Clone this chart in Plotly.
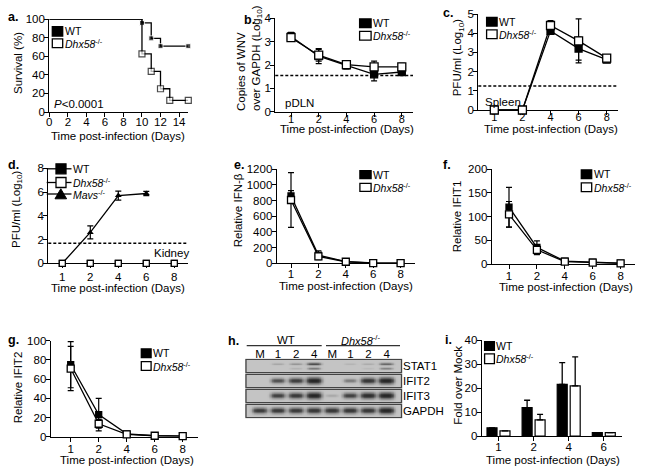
import numpy as np
import plotly.graph_objects as go

W, H = 645, 472
FONT = "Liberation Sans, Arial, sans-serif"
FS = 11.5
LFS = 10.5

# ---------------- data ----------------
# a. survival
surv_wt_days = [0, 10, 11, 12, 15]
surv_wt = [100, 95.8, 79.2, 70.8, 70.8]
surv_ko_days = [0, 10, 11, 12, 13, 15]
surv_ko = [100, 62.5, 43.75, 25, 12.5, 12.5]

days = ["1", "2", "4", "6", "8"]

# b. pDLN
b_wt = [3.22, 2.38, 1.98, 1.60, 1.70]
b_wt_err = [0.18, 0.32, 0.15, 0.28, 0.10]
b_ko = [3.17, 2.42, 2.02, 1.92, 1.92]
b_ko_err = [0.15, 0.25, 0.12, 0.25, 0.15]
b_lod = 1.55

# c. spleen
c_wt = [0, 0, 4.12, 3.2, 2.62]
c_wt_err = [0, 0, 0.1, 0.6, 0.1]
c_ko = [0, 0, 4.4, 3.6, 2.7]
c_ko_err = [0, 0, 0.25, 1.15, 0.15]
c_lod = 1.25

# d. kidney
d_wt = [0, 0, 0, 0, 0]
d_ko = [0, 0, 0, 0, 0]
d_mavs = [0, 2.6, 5.7, 5.88]
d_mavs_err = [0, 0.55, 0.38, 0.18]
d_lod = 1.68

# e. IFN-beta
e_wt = [860, 105, 22, 4, 2]
e_wt_err = [67, 55, 8, 2, 1]
e_ko = [808, 88, 20, 3, 2]
e_ko_err = [350, 40, 6, 2, 1]

# f. IFIT1
f_wt = [120, 35, 6, 4, 2]
f_wt_err = [42, 14, 2, 1.5, 1]
f_ko = [105, 30, 5, 3, 1.5]
f_ko_err = [27, 10, 2, 1, 0.5]

# g. IFIT2
g_wt = [75, 23, 3, 1, 0.5]
g_wt_err = [24, 17, 1, 0.5, 0.3]
g_ko = [71, 13.5, 2.5, 1, 0.5]
g_ko_err = [23, 4.5, 1, 0.5, 0.3]

# h. western blot (relative band intensity 0-1)
blot_lanes = ["M", "1", "2", "4", "M", "1", "2", "4"]
blot_rows = ["STAT1", "IFIT2", "IFIT3", "GAPDH"]
blot_stat1 = [0.0, 0.18, 0.28, 0.7, 0.0, 0.1, 0.15, 0.55]
blot_stat1_low = [0.0, 0.0, 0.1, 0.4, 0.0, 0.0, 0.06, 0.35]
blot_ifit2 = [0.0, 0.65, 0.78, 1.0, 0.0, 0.4, 0.85, 1.0]
blot_ifit3 = [0.0, 0.75, 0.82, 1.0, 0.15, 0.75, 0.92, 1.0]
blot_gapdh = [0.8, 0.82, 0.82, 0.85, 0.85, 0.85, 0.85, 1.0]

# i. fold over mock
i_days = ["1", "2", "4", "6"]
i_wt = [3.4, 11.8, 21.5, 1.4]
i_wt_err = [0, 3.1, 9.1, 0]
i_ko = [2.1, 6.7, 20.9, 1.4]
i_ko_err = [0, 2.3, 12.1, 0]

# ---------------- helpers ----------------
def PX(x):
    return x / W


def PY(y):
    return 1 - y / H


fig = go.Figure()
annos = []
shapes = []


def axname(n):
    return "" if n == 1 else str(n)


def set_axes(n, xl, xr, p0, sp, yt, yb, ymax, dtick, tickvals=None, ticktext=None,
             xrange=None, xstand=-4, xfs=FS):
    base = dict(showline=True, linecolor="black", linewidth=1.2, ticks="outside",
                ticklen=4, tickwidth=1.2, tickcolor="black", showgrid=False,
                zeroline=False, tickfont=dict(size=FS, color="black", family=FONT),
                layer="below traces", fixedrange=True, automargin=False)
    if xrange is None:
        xrange = [(xl - p0) / sp, (xr - p0) / sp]
    xa = dict(base, domain=[PX(xl), PX(xr)], range=xrange,
              anchor="y" + axname(n), ticklabelstandoff=xstand,
              tickfont=dict(size=xfs, color="black", family=FONT))
    if tickvals is not None:
        xa.update(tickmode="array", tickvals=tickvals, ticktext=ticktext)
    ya = dict(base, domain=[PY(yb), PY(yt)], range=[0, ymax], dtick=dtick,
              anchor="x" + axname(n), ticklabelstandoff=-3)
    fig.layout["xaxis" + axname(n)] = xa
    fig.layout["yaxis" + axname(n)] = ya


def text(x, y, s, size=FS, anchor="left", bold=False, angle=0, yanchor="middle",
         align="center"):
    if bold:
        s = "<b>" + s + "</b>"
    annos.append(dict(x=PX(x), y=PY(y), xref="paper", yref="paper", text=s,
                      showarrow=False, xanchor=anchor, yanchor=yanchor, align=align,
                      textangle=angle, borderpad=0,
                      font=dict(size=size, color="black", family=FONT)))


def sq_legend(x0, x1, rows, labels):
    for (yt, yb), (lab, filled) in zip(rows, labels):
        shapes.append(dict(type="rect", xref="paper", yref="paper",
                           x0=PX(x0 + 0.6), x1=PX(x1 - 0.6), y0=PY(yb - 0.6), y1=PY(yt + 0.6),
                           line=dict(color="black", width=1.3),
                           fillcolor="black" if filled else "white"))
        text(x1 + 0.3, (yt + yb) / 2, lab, size=LFS)


KO = "<i>Dhx58</i><sup>-/-</sup>"


def line_pair(n, wt, wt_err, ko, ko_err, ms=7):
    xs = list(range(len(wt)))
    for y, e, filled in ((wt, wt_err, True), (ko, ko_err, False)):
        fig.add_trace(go.Scatter(
            x=xs, y=y, mode="lines+markers", xaxis="x" + axname(n), yaxis="y" + axname(n),
            line=dict(color="black", width=1.3),
            marker=dict(symbol="square", size=ms - 1 if filled else ms,
                        color="black" if filled else "white",
                        line=dict(color="black", width=1.3)),
            error_y=dict(type="data", array=e, color="black", thickness=1.2, width=3),
            cliponaxis=False, showlegend=False))


def lod(n, val):
    shapes.append(dict(type="line", xref="x" + axname(n) + " domain", yref="y" + axname(n),
                       x0=0, x1=1, y0=val, y1=val,
                       line=dict(color="black", width=1.5, dash="3px,2px")))


XT = "Time post-infection (Days)"
YS = FS

# ---------------- a ----------------
set_axes(1, 49.3, 188.3, 49.3, 9.267, 19, 112, 100, 20, xrange=[0, 15], xstand=-5)
fig.layout.xaxis.update(dtick=2, tick0=0)
fig.add_trace(go.Scatter(x=surv_wt_days, y=surv_wt, mode="lines+markers", line_shape="hv",
                         line=dict(color="black", width=1.3),
                         marker=dict(symbol="square", color="black",
                                     size=[0] + [5] * (len(surv_wt) - 1)),
                         cliponaxis=False, showlegend=False))
fig.add_trace(go.Scatter(x=surv_ko_days, y=surv_ko, mode="lines+markers", line_shape="hv",
                         line=dict(color="black", width=1.3),
                         marker=dict(symbol="square", color="white",
                                     size=[0] + [6] * (len(surv_ko) - 1),
                                     line=dict(color="black", width=1.2)),
                         cliponaxis=False, showlegend=False))
sq_legend(51.7, 63.3, [(26, 36.7), (38.3, 48.3)], [("WT", True), (KO, False)])
text(53.3, 104, "<i>P</i>&lt;0.0001")
text(18, 63, "Survival (%)", angle=-90, anchor="center", size=YS)
text(118, 136.5, XT, anchor="center")
text(6.5, 17, "a.", size=12.5, bold=True)

# ---------------- b ----------------
set_axes(2, 275.3, 413, 291, 27.7, 18.3, 111.7, 4, 1, list(range(5)), days, xstand=-7,
         xfs=11)
line_pair(2, b_wt, b_wt_err, b_ko, b_ko_err, ms=8)
lod(2, b_lod)
sq_legend(359, 371.7, [(18.3, 28.3), (30.7, 40.7)], [("WT", True), (KO, False)])
text(283.5, 103.3, "pDLN")
text(249, 58, "Copies of WNV<br>over GAPDH (Log<sub>10</sub>)", angle=-90, anchor="center",
     align="left", size=YS)
text(347, 129, XT, anchor="center")
text(242.5, 20, "b.", size=12.5, bold=True)

# ---------------- c ----------------
set_axes(3, 478.3, 618, 494.3, 28.1, 14, 110, 5, 1, list(range(5)), days, xstand=-7,
         xfs=11)
line_pair(3, c_wt, c_wt_err, c_ko, c_ko_err, ms=8)
lod(3, c_lod)
sq_legend(486, 497.7, [(16.7, 26.7), (29.3, 39.3)], [("WT", True), (KO, False)])
text(484.3, 101.7, "Spleen")
text(458.3, 57, "PFU/ml (Log<sub>10</sub>)", angle=-90, anchor="center", size=YS)
text(550.8, 129, XT, anchor="center")
text(441.7, 13.3, "c.", size=12.5, bold=True)

# ---------------- d ----------------
set_axes(4, 48.3, 188, 62.3, 28, 168.3, 263.3, 8, 2, list(range(5)), days, xstand=-1)
fig.add_trace(go.Scatter(x=list(range(len(d_mavs))), y=d_mavs, mode="lines+markers",
                         xaxis="x4", yaxis="y4", line=dict(color="black", width=1.3),
                         marker=dict(symbol="triangle-up", size=6, color="black"),
                         error_y=dict(type="data", array=d_mavs_err, color="black",
                                      thickness=1.2, width=3),
                         cliponaxis=False, showlegend=False))
for y, filled in ((d_wt, True), (d_ko, False)):
    fig.add_trace(go.Scatter(x=list(range(len(y))), y=y, mode="markers",
                             xaxis="x4", yaxis="y4",
                             marker=dict(symbol="square", size=6,
                                         color="black" if filled else "white",
                                         line=dict(color="black", width=1.2)),
                             cliponaxis=False, showlegend=False))
lod(4, d_lod)
for yc, lab, kind in ((168.8, "WT", "f"), (182.5, KO, "o"), (194, "<i>Mavs</i><sup>-/-</sup>", "t")):
    shapes.append(dict(type="line", xref="paper", yref="paper", x0=PX(46.7), x1=PX(71.5),
                       y0=PY(yc), y1=PY(yc), line=dict(color="black", width=1.3)))
    if kind == "t":
        path = "M %f,%f L %f,%f L %f,%f Z" % (PX(55), PY(yc + 4.8), PX(66.6), PY(yc + 4.8),
                                              PX(60.8), PY(yc - 5.2))
        shapes.append(dict(type="path", xref="paper", yref="paper", path=path,
                           fillcolor="black", line=dict(color="black", width=1)))
    else:
        shapes.append(dict(type="rect", xref="paper", yref="paper",
                           x0=PX(56), x1=PX(66), y0=PY(yc + 5), y1=PY(yc - 5),
                           fillcolor="black" if kind == "f" else "white",
                           line=dict(color="black", width=1.3)))
    text(72, yc, lab, size=LFS)
text(152.7, 253.3, "Kidney")
text(17, 209, "PFU/ml (Log<sub>10</sub>)", angle=-90, anchor="center", size=YS)
text(117.5, 288, XT, anchor="center")
text(6.5, 165, "d.", size=12.5, bold=True)

# ---------------- e ----------------
set_axes(5, 276.7, 415, 291, 27.4, 169.3, 263.3, 1200, 200, list(range(5)), days, xstand=-4)
line_pair(5, e_wt, e_wt_err, e_ko, e_ko_err, ms=7)
sq_legend(359.3, 371.7, [(170, 179.3), (182.7, 192)], [("WT", True), (KO, False)])
text(238.3, 210, "Relative IFN-β", angle=-90, anchor="center", size=YS)
text(346, 286, XT, anchor="center")
text(232.7, 165, "e.", size=12.5, bold=True)

# ---------------- f ----------------
set_axes(6, 491.7, 635, 509, 27.9, 169.3, 264, 200, 50, list(range(5)), days, xstand=-3)
line_pair(6, f_wt, f_wt_err, f_ko, f_ko_err, ms=7)
sq_legend(580.7, 592.3, [(169.3, 179.3), (182.3, 192.3)], [("WT", True), (KO, False)])
text(457.3, 216, "Relative IFIT1", angle=-90, anchor="center", size=YS)
text(565.5, 287, XT, anchor="center")
text(441.7, 165, "f.", size=12.5, bold=True)

# ---------------- g ----------------
set_axes(7, 50.7, 198, 70.7, 28, 340.7, 436.7, 100, 20, list(range(5)), days, xstand=-3)
line_pair(7, g_wt, g_wt_err, g_ko, g_ko_err, ms=7)
sq_legend(140.7, 151.7, [(348.3, 358.3), (361, 371)], [("WT", True), (KO, False)])
text(18.3, 387, "Relative IFIT2", angle=-90, anchor="center", size=YS)
text(127, 459.5, XT, anchor="center")
text(6.5, 340, "g.", size=12.5, bold=True)

# ---------------- h (western blot) ----------------
xl, xr = -0.8, 7.85
fig.layout["xaxis8"] = dict(domain=[PX(245.5), PX(402)], range=[xl, xr], anchor="y8",
                            side="top", showline=False, showgrid=False, zeroline=False,
                            ticks="", tickmode="array", tickvals=list(range(8)),
                            ticktext=blot_lanes, fixedrange=True, automargin=False,
                            ticklabelstandoff=-3,
                            tickfont=dict(size=FS, color="black", family=FONT))
fig.layout["yaxis8"] = dict(domain=[PY(418.5), PY(358.5)], range=[3.5, -0.5], anchor="x8",
                            side="right", showline=False, showgrid=False, zeroline=False,
                            ticks="", tickmode="array", tickvals=list(range(4)),
                            ticktext=blot_rows, fixedrange=True, automargin=False,
                            tickfont=dict(size=FS, color="black", family=FONT))
gx = np.linspace(xl, xr, 220)
gy = np.linspace(-0.5, 3.5, 160)
XX, YY = np.meshgrid(gx, gy)
Z = np.full(XX.shape, np.nan)
bands = [
    (0, blot_stat1, -0.12),
    (0, blot_stat1_low, 0.18),
    (1, blot_ifit2, 0.0),
    (2, blot_ifit3, 0.0),
    (3, blot_gapdh, 0.0),
]
inside = np.zeros(XX.shape, bool)
for r in range(4):
    inside |= np.abs(YY - r) <= 0.44
acc = np.zeros(XX.shape)
for r, vals, dy in bands:
    for lane, inten in enumerate(vals):
        if inten <= 0:
            continue
        wx = 0.32 + 0.12 * inten
        sy = 0.08 + 0.14 * inten if r != 0 else 0.06 + 0.04 * inten
        hx = np.exp(-(np.abs(XX - lane) / wx) ** 4)
        hy = np.exp(-((YY - r - dy) / sy) ** 2)
        acc += inten * hx * hy
Z[inside] = np.clip(acc[inside], 0, 1)
fig.add_trace(go.Heatmap(x=gx, y=gy, z=Z, xaxis="x8", yaxis="y8", zmin=0, zmax=1,
                         colorscale=[[0, "#c4c4c4"], [0.35, "#858585"], [0.7, "#474747"],
                                     [1, "#262626"]],
                         showscale=False, hoverinfo="skip"))
for r in range(4):
    shapes.append(dict(type="rect", xref="x8 domain", yref="y8", x0=0.003, x1=0.997,
                       y0=r - 0.44, y1=r + 0.44, line=dict(color="#444", width=1.3)))
shapes.append(dict(type="line", xref="paper", yref="paper", x0=PX(246.7), x1=PX(321.7),
                   y0=PY(345.7), y1=PY(345.7), line=dict(color="#333", width=1.3)))
shapes.append(dict(type="line", xref="paper", yref="paper", x0=PX(326), x1=PX(400),
                   y0=PY(345.7), y1=PY(345.7), line=dict(color="#333", width=1.3)))
text(286, 339.5, "WT", anchor="center")
text(361, 339.5, KO, anchor="center", size=LFS + 0.5)
text(226.7, 340.7, "h.", size=12.5, bold=True)

# ---------------- i ----------------
set_axes(9, 481.7, 621.7, 498.5, 35.1, 340, 436, 40, 10, list(range(4)), i_days, xstand=-4)
fig.add_trace(go.Bar(x=list(range(4)), y=i_wt, xaxis="x9", yaxis="y9",
                     marker=dict(color="black", line=dict(color="black", width=1.2)),
                     error_y=dict(type="data", array=i_wt_err, symmetric=False,
                                  arrayminus=[0] * 4, color="black", thickness=1.3, width=3),
                     showlegend=False))
fig.add_trace(go.Bar(x=list(range(4)), y=i_ko, xaxis="x9", yaxis="y9",
                     marker=dict(color="white", line=dict(color="black", width=1.2)),
                     error_y=dict(type="data", array=i_ko_err, symmetric=False,
                                  arrayminus=[0] * 4, color="black", thickness=1.3, width=3),
                     showlegend=False))
sq_legend(484, 495, [(341, 351), (353.3, 364.3)], [("WT", True), (KO, False)])
text(457.7, 385, "Fold over Mock", angle=-90, anchor="center", size=YS)
text(552.5, 459.5, XT, anchor="center")
text(444.3, 340, "i.", size=12.5, bold=True)

fig.update_layout(width=W, height=H, margin=dict(l=0, r=0, t=0, b=0),
                  paper_bgcolor="white", plot_bgcolor="rgba(0,0,0,0)",
                  font=dict(family=FONT, size=FS, color="black"),
                  barmode="group", bargap=0.26, bargroupgap=0.23,
                  annotations=annos, shapes=shapes, showlegend=False)
fig.write_html("out.html", config={"displayModeBar": False},
               post_script="document.body.style.margin='0';"
                           "document.body.style.overflow='hidden';")
